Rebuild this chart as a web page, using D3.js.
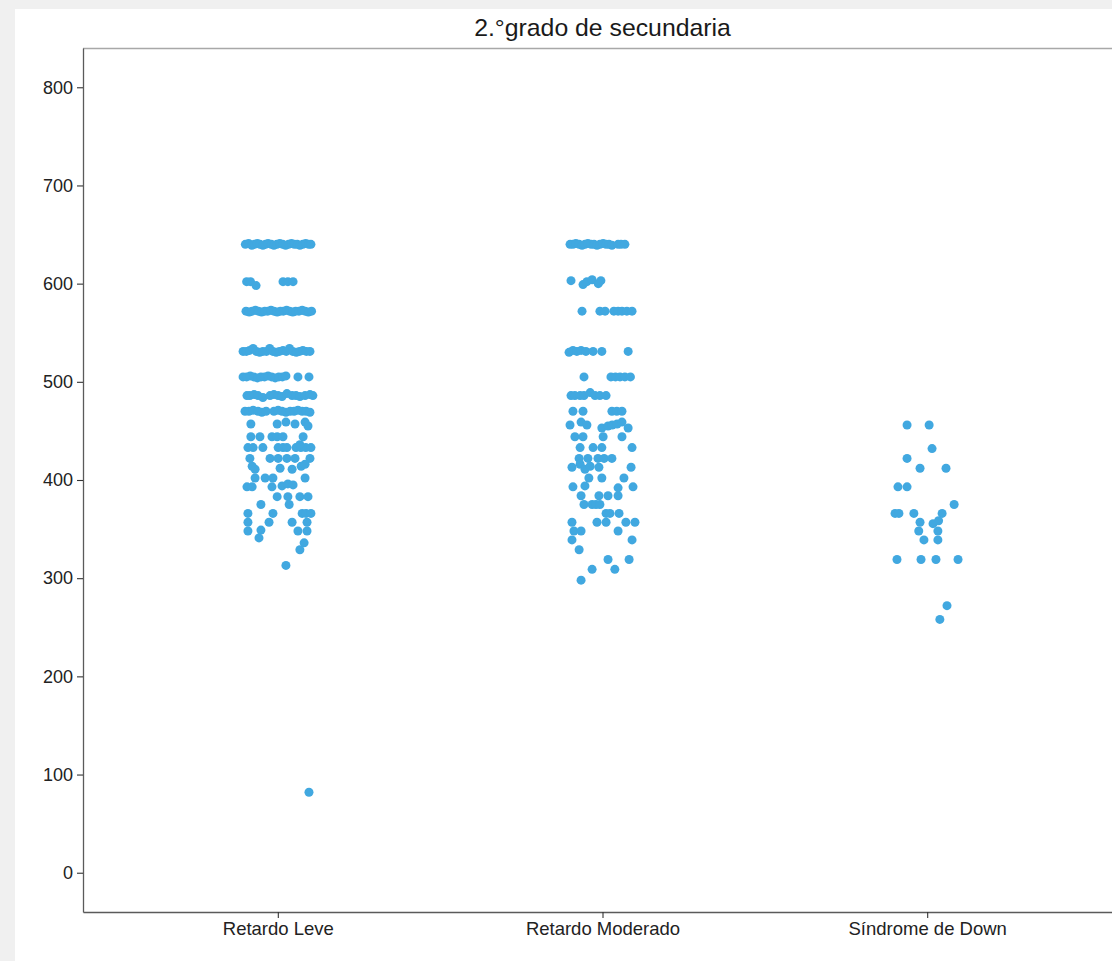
<!DOCTYPE html>
<html>
<head>
<meta charset="utf-8">
<script src="https://cdn.jsdelivr.net/npm/d3@7"></script>
<style>
  html, body { margin: 0; padding: 0; background: #f0f0f0; }
  svg { display: block; }
</style>
</head>
<body>
<svg id="chart" width="1112" height="961"></svg>
<script>
// ---------- data ----------
const titleText = "2.°grado de secundaria";
const categories = ["Retardo Leve", "Retardo Moderado", "Síndrome de Down"];
const yTicks = [0, 100, 200, 300, 400, 500, 600, 700, 800];
const yDomain = [-40, 840];

// [score, horizontal jitter in hundredths of a category step]
const leve = [
  [640,-10],[641,-9],[639,-8],[640,-7.2],[641,-6.3],[640,-5.5],[639,-4.6],[640,-3.8],[641,-3],[640,-2],[639,-1.2],[640,-0.3],
  [641,0.6],[640,1.5],[639,2.4],[640,3.3],[641,4.2],[640,5.1],[640,6],[639,6.8],[640,7.7],[641,8.6],[640,9.5],[640,10.2],
  [602,-9.6],[602,-8.4],[598,-6.7],[602,1.6],[602,3.1],[602,4.7],
  [572,-9.8],[571,-8.8],[572,-7.9],[573,-6.9],[572,-6],[571,-5],[572,-4],[572,-3.1],[573,-2.1],[572,-1.2],[571,-0.2],
  [572,0.8],[572,1.7],[573,2.7],[572,3.6],[571,4.6],[572,5.5],[572,6.5],[573,7.5],[572,8.4],[571,9.4],[572,10.4],
  [531,-10.7],[531,-9.7],[532,-8.7],[534,-7.6],[531,-6.6],[530,-5.6],[531,-4.6],[531,-3.5],[534,-2.5],[531,-1.5],[530,-0.5],
  [531,0.5],[532,1.6],[531,2.6],[534,3.6],[531,4.6],[530,5.7],[531,6.7],[532,7.7],[531,8.8],[531,9.9],
  [505,-10.7],[505,-9.6],[506,-8.5],[505,-7.4],[504,-6.3],[505,-5.2],[505,-4.1],[506,-3],[505,-1.9],[504,-0.8],[505,0.3],
  [505,1.4],[506,2.5],[505,6.2],[505,9.6],
  [486,-9.5],[486,-8.6],[487,-7.3],[486,-6.1],[484,-4.6],[486,-2.4],[487,-1.2],[486,0.1],[485,1.3],[488,2.8],[486,4.4],
  [486,5.6],[485,6.8],[486,8.4],[487,9.9],[486,10.8],
  [470,-10.1],[470,-8.9],[471,-7.6],[470,-6.1],[469,-4.9],[470,-3.6],[470,-1.2],[471,0.1],[470,1.3],[469,2.5],[470,3.8],
  [470,5],[471,6.2],[470,7.5],[470,8.7],[469,9.9],
  [457,-8.3],[457,-0.2],[459,2.5],[457,5.3],[459,8.4],[455,9.3],
  [444,-8.3],[444,-5.5],[444,-1.8],[444,-0.2],[444,1.6],[444,7.8],
  [433,-9.2],[433,-7.6],[433,-4.6],[433,0.1],[433,1.6],[433,2.8],[433,5.6],[433,7.1],[433,8.6],[433,10.2],[436,6.8],
  [422,-8.6],[422,-2.4],[422,0.1],[422,2.8],[422,5.3],[422,9.9],
  [414,-7.9],[411,-7],[412,0.7],[411,4.4],[414,7.2],[416,8.4],
  [402,-7],[402,-3.9],[402,-1.5],[402,8.4],
  [393,-9.5],[393,-7.9],[393,-1.8],[394,1.3],[396,3.1],[395,4.7],
  [383,-0.2],[383,3.1],[383,6.8],[383,9.3],
  [375,-5.2],[375,3.5],
  [366,-9.2],[366,-1.5],[366,7.5],[366,8.7],[366,10.2],
  [357,-9.2],[357,-2.7],[357,4.4],[357,9],
  [348,-9.2],[349,-5.2],[348,6.2],[348,9],
  [341,-5.8],[336,8.1],[329,6.8],[313,2.5],[82,9.6]
];

const moderado = [
  [640,-10],[640,-9.1],[641,-8.2],[640,-7.2],[639,-6.3],[640,-5.4],[641,-4.5],[640,-3.5],[640,-2.6],[639,-1.7],[640,-0.8],
  [641,0.2],[640,1.1],[640,2],[639,2.9],[640,4.8],[640,5.7],[640,6.9],
  [603,-9.7],[599,-6],[602,-4.8],[604,-3.2],[600,-1.3],[603,-0.5],
  [572,-6.3],[572,-0.8],[572,0.8],[572,3.5],[572,4.8],[572,6],[572,7.5],[572,9.1],
  [530,-10.3],[532,-9.1],[531,-7.9],[532,-6.6],[531,-5.1],[531,-2.9],[531,-0.2],[531,7.9],
  [505,-5.7],[505,2.6],[505,4],[505,5.4],[505,6.9],[505,8.6],
  [486,-9.7],[486,-8.5],[486,-6.9],[486,-5.7],[489,-3.8],[486,-2.3],[486,-0.8],[486,1.1],
  [470,-9.1],[470,-6],[470,2.9],[470,4.4],[470,6],
  [456,-10],[459,-6.6],[456,-4.8],[453,-0.2],[455,1.7],[456,3],[457,4.5],[459,6],[453,7.9],
  [444,-8.5],[444,-6],[444,0.2],[444,6],
  [433,-6.9],[433,-2.9],[433,-0.2],[433,9.1],
  [422,-7.2],[422,-4.5],[422,-1.4],[422,0.5],[422,2.9],
  [413,-9.4],[416,-6.9],[411,-5.4],[414,-3.8],[413,-1.1],[413,8.8],
  [402,-4.2],[402,-0.2],[402,6.6],
  [393,-9.1],[394,-5.4],[392,4.8],[393,9.4],
  [384,-6.6],[384,-1.1],[384,1.7],[384,4.8],
  [375,-5.7],[375,-3.2],[375,-2],[375,-0.8],
  [366,1.1],[366,2.3],[366,5.1],
  [357,-9.4],[357,-1.7],[357,1.1],[357,7.2],[357,10],
  [348,-8.8],[348,-6.6],[348,4.8],
  [339,-9.4],[339,9.1],
  [329,-7.2],
  [319,1.7],[319,8.2],
  [309,-3.2],[309,3.8],
  [298,-6.6]
];

const down = [
  [456,-6.2],[456,0.6],[432,1.5],[422,-6.2],[412,-2.2],[412,5.8],[393,-9],[393,-6.2],[375,8.3],
  [366,-9.9],[366,-8.7],[366,-4.1],[366,4.6],[357,-2.2],[355.5,1.8],[358.5,3.5],[348,-2.6],[348,3.3],
  [339,-1],[339,3.3],[319,-9.3],[319,-1.9],[319,2.7],[319,9.5],[272,6.1],[258,3.9]
];

const groups = [leve, moderado, down];

// ---------- layout ----------
const W = 1112, H = 961;
const plot = { left: 83, right: 1122, top: 48, bottom: 912 };
const fontFamily = "'Liberation Sans', Arial, Helvetica, sans-serif";
const pointColor = "#41a8e0";

const svg = d3.select("#chart");

// page background and white card
svg.append("rect").attr("width", W).attr("height", H).attr("fill", "#f0f0f0");
svg.append("rect").attr("x", 15).attr("y", 9).attr("width", W - 15).attr("height", H - 9).attr("fill", "#ffffff");

const x = d3.scalePoint().domain(categories).range([plot.left, plot.right]).padding(0.6);
const y = d3.scaleLinear().domain(yDomain).range([plot.bottom, plot.top]);

// top panel border
svg.append("line")
  .attr("x1", plot.left).attr("x2", plot.right)
  .attr("y1", plot.top + 0.5).attr("y2", plot.top + 0.5)
  .attr("stroke", "#a8a8a8").attr("stroke-width", 1.6);

// points
const pts = [];
groups.forEach((g, i) => g.forEach(d => pts.push({ cat: categories[i], v: d[0], j: d[1] })));

svg.append("g")
  .selectAll("circle")
  .data(pts)
  .join("circle")
  .attr("cx", d => x(d.cat) + x.step() * d.j / 100)
  .attr("cy", d => y(d.v))
  .attr("r", 4.5)
  .attr("fill", pointColor);

// y axis
const yAxis = svg.append("g")
  .attr("transform", `translate(${plot.left},0)`)
  .call(d3.axisLeft(y).tickValues(yTicks).tickSize(6).tickSizeOuter(0).tickPadding(4));
yAxis.select(".domain").attr("stroke", "#5a5a5a").attr("stroke-width", 1.3);
yAxis.selectAll(".tick line").attr("stroke", "#333").attr("stroke-width", 1.1);
yAxis.selectAll(".tick text")
  .attr("fill", "#222").style("font-family", fontFamily).style("font-size", "18px");

// x axis
const xAxis = svg.append("g")
  .attr("transform", `translate(0,${plot.bottom})`)
  .call(d3.axisBottom(x).tickSize(6).tickSizeOuter(0).tickPadding(4));
xAxis.select(".domain").attr("stroke", "#5a5a5a").attr("stroke-width", 1.3);
xAxis.selectAll(".tick line").attr("stroke", "#333").attr("stroke-width", 1.1);
xAxis.selectAll(".tick text")
  .attr("fill", "#222").style("font-family", fontFamily).style("font-size", "18.5px");

// title centred over the panel
svg.append("text")
  .attr("x", (plot.left + plot.right) / 2)
  .attr("y", 36)
  .attr("text-anchor", "middle")
  .attr("fill", "#1a1a1a")
  .style("font-family", fontFamily)
  .style("font-size", "24.8px")
  .text(titleText);
</script>
</body>
</html>
